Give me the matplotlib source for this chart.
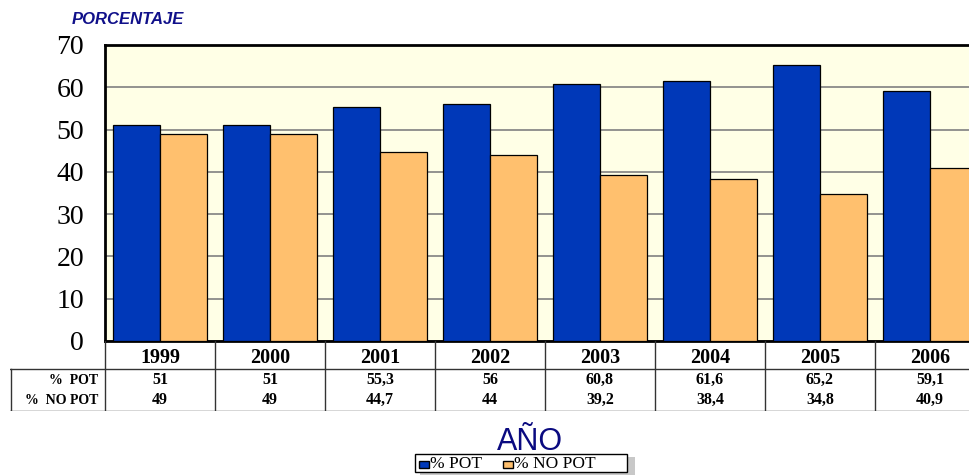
import numpy as np
import matplotlib.pyplot as plt
from matplotlib.patches import Rectangle

years = ['1999', '2000', '2001', '2002', '2003', '2004', '2005', '2006']
pot = [51, 51, 55.3, 56, 60.8, 61.6, 65.2, 59.1]
no_pot = [49, 49, 44.7, 44, 39.2, 38.4, 34.8, 40.9]
pot_txt = ['51', '51', '55,3', '56', '60,8', '61,6', '65,2', '59,1']
no_pot_txt = ['49', '49', '44,7', '44', '39,2', '38,4', '34,8', '40,9']

blue = '#0038B8'
orange = '#FFC06E'
W, H = 970, 475

fig = plt.figure(figsize=(9.7, 4.75), dpi=100)


def px(x0, y0, x1, y1):
    # pixel box -> figure fraction [left, bottom, width, height]
    return [x0 / W, 1 - y1 / H, (x1 - x0) / W, (y1 - y0) / H]


ax = fig.add_axes(px(105, 45, 985, 341))
ax.set_facecolor('#FFFFE6')
x = np.arange(len(years))
bw = 0.427
ax.bar(x + 0.5 - bw / 2, pot, bw, color=blue, edgecolor='black', linewidth=0.9, zorder=3)
ax.bar(x + 0.5 + bw / 2, no_pot, bw, color=orange, edgecolor='black', linewidth=0.9, zorder=3)
ax.set_xlim(0, len(years))
ax.set_ylim(0, 70)
ax.set_yticks(range(0, 71, 10))
ax.set_yticklabels([str(v) for v in range(0, 71, 10)], family='Liberation Serif', fontsize=20)
ax.set_xticks([])
ax.yaxis.grid(True, color='#808080', linewidth=1.2, zorder=0)
ax.tick_params(axis='y', length=0, pad=15)
for s in ax.spines.values():
    s.set_linewidth(2)

# data table under the plot
tb = fig.add_axes(px(10, 341, 985, 411))
tb.set_xlim(-95 / 110, len(years))
tb.set_ylim(70, 0)
tb.axis('off')
lk = dict(color='#333333', linewidth=1)
tb.plot([-95 / 110, len(years)], [28, 28], **lk)
tb.plot([-95 / 110, len(years)], [69.5, 69.5], **lk)
tb.plot([-94 / 110, -94 / 110], [28, 70], **lk)
for i in range(len(years)):
    tb.plot([i, i], [0, 70], **lk)
for i, y in enumerate(years):
    tb.text(i + 0.5, 17, y, ha='center', va='center', family='Liberation Serif',
            fontweight='bold', fontsize=14.5)
    tb.text(i + 0.5, 39, pot_txt[i], ha='center', va='center', family='Liberation Serif',
            fontweight='bold', fontsize=11.5)
    tb.text(i + 0.5, 59, no_pot_txt[i], ha='center', va='center', family='Liberation Serif',
            fontweight='bold', fontsize=11.5)
tb.text(-7 / 110, 39, '%  POT', ha='right', va='center', family='Liberation Serif',
        fontweight='bold', fontsize=10)
tb.text(-7 / 110, 59, '%  NO POT', ha='right', va='center', family='Liberation Serif',
        fontweight='bold', fontsize=10)

fig.text(72 / W, 1 - 20 / H, 'PORCENTAJE', color='#10108A', fontsize=12,
         fontweight='bold', style='italic', family='Liberation Sans', va='center')
fig.text(530 / W, 1 - 442 / H, 'AÑO', color='#0A0A80', fontsize=22,
         family='Liberation Sans', ha='center', va='center')

# legend box
lg = fig.add_axes(px(410, 452, 640, 475))
lg.set_xlim(410, 640)
lg.set_ylim(475, 452)
lg.axis('off')
lg.add_patch(Rectangle((420, 457), 215, 18, facecolor='#C8C8C8', edgecolor='none'))
lg.add_patch(Rectangle((415, 454), 212, 18, facecolor='white', edgecolor='black', linewidth=1))
lg.add_patch(Rectangle((419, 461), 10, 7, facecolor=blue, edgecolor='black', linewidth=1))
lg.text(430, 464, '% POT', va='center', family='Liberation Serif', fontsize=12.5)
lg.add_patch(Rectangle((503, 461), 10, 7, facecolor=orange, edgecolor='black', linewidth=1))
lg.text(514, 464, '% NO POT', va='center', family='Liberation Serif', fontsize=12.5)

fig.savefig('out.png', dpi=100)
